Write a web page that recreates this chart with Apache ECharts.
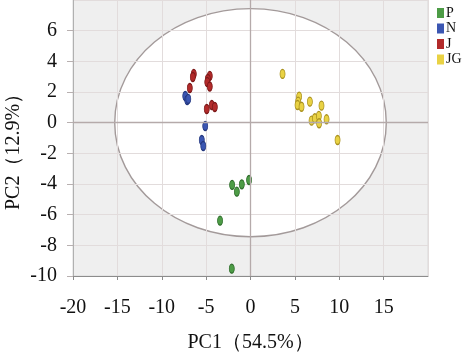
<!DOCTYPE html>
<html><head><meta charset="utf-8">
<script src="https://cdn.jsdelivr.net/npm/echarts@6/dist/echarts.min.js"></script>
<style>html,body{margin:0;padding:0;background:#fff}#c{width:464px;height:358px}</style>
</head><body><div id="c"></div>
<script>
const groupNames = ['P', 'N', 'J', 'JG'];
const groupP = [[-2.07,-4.06],[-1.54,-4.50],[-0.98,-4.02],[-0.16,-3.74],[-3.43,-6.39],[-2.11,-9.52]];
const groupN = [[-7.35,1.74],[-7.13,1.48],[-7.01,1.55],[-5.10,-0.22],[-5.49,-1.13],[-5.32,-1.52]];
const groupJ = [[-6.39,3.18],[-6.50,2.98],[-6.84,2.26],[-4.59,3.05],[-4.81,2.85],[-4.87,2.65],[-4.59,2.36],[-4.93,0.89],[-4.36,1.15],[-4.02,1.02]];
const groupJG = [[3.61,3.18],[5.48,1.70],[5.37,1.37],[5.30,1.15],[5.75,1.04],[6.69,1.37],[8.00,1.11],[6.88,0.13],[7.25,0.29],[7.70,0.44],[7.73,-0.04],[8.57,0.22],[9.81,-1.13]];
const ellipse = [[0, 0, 15.3, 7.44]]; // centre x, centre y, radius x, radius y
const xAxisName = 'PC1（54.5%）';
const yAxisName = 'PC2（12.9%）';

const fills = ['#4d9c46', '#3b56b2', '#b22a2a', '#e9d244'];
const strokes = ['#2d6b2a', '#24377e', '#7c1919', '#a8901e'];
const groupData = [groupP, groupN, groupJ, groupJG];
const font = '"Liberation Serif", "Times New Roman", serif';

const chart = echarts.init(document.getElementById('c'), null, {renderer: 'canvas'});
const series = [{
  type: 'custom',
  z: -1,
  silent: true,
  data: ellipse,
  renderItem: function (params, api) {
    const cs = params.coordSys;
    const c = api.coord([api.value(0), api.value(1)]);
    const s = api.size([api.value(2), api.value(3)]);
    return {
      type: 'group',
      children: [
        {type: 'rect', shape: {x: cs.x, y: cs.y, width: cs.width, height: cs.height}, style: {fill: '#efefef'}},
        {type: 'ellipse', shape: {cx: c[0], cy: c[1], rx: s[0], ry: s[1]}, style: {fill: '#ffffff', stroke: '#a39a9a', lineWidth: 1.4}}
      ]
    };
  }
}];
groupNames.forEach(function (n, i) {
  const s = {
    name: n,
    type: 'scatter',
    data: groupData[i],
    symbol: 'circle',
    symbolSize: [5, 9],
    itemStyle: {color: fills[i], borderColor: strokes[i], borderWidth: 1, opacity: 1}
  };
  if (i === 0) {
    s.markLine = {
      silent: true, symbol: 'none', label: {show: false},
      lineStyle: {color: '#b5aaaa', width: 1.3, type: 'solid'},
      data: [{xAxis: 0}, {yAxis: 0}],
      animation: false
    };
  }
  series.push(s);
});

chart.setOption({
  animation: false,
  backgroundColor: '#ffffff',
  grid: {left: 73, right: 36, top: 0, bottom: 82, containLabel: false, outerBoundsMode: 'none', show: true, borderColor: '#d8d8d8', borderWidth: 1, backgroundColor: 'transparent'},
  legend: {
    orient: 'vertical', left: 432, top: 1,
    itemWidth: 7, itemHeight: 10, itemGap: 1.5,
    icon: 'rect',
    data: groupNames,
    itemStyle: {borderWidth: 0},
    textStyle: {fontFamily: font, fontSize: 14, color: '#111', padding: [0, 0, 0, -3]}
  },
  xAxis: {
    type: 'value', min: -20, max: 20, interval: 5,
    name: xAxisName, nameLocation: 'middle', nameGap: 57, nameMoveOverlap: false,
    nameTextStyle: {fontFamily: font, fontSize: 20, color: '#111'},
    axisLine: {show: true, onZero: false, lineStyle: {color: '#8c8c8c', width: 1}},
    axisTick: {show: true, length: 4, lineStyle: {color: '#8c8c8c'}},
    axisLabel: {fontFamily: font, fontSize: 20, color: '#111', margin: 22, showMaxLabel: false},
    splitLine: {show: true, lineStyle: {color: '#e2dcdc', width: 1}}
  },
  yAxis: {
    type: 'value', min: -10, max: 8, interval: 2,
    name: yAxisName, nameLocation: 'middle', nameGap: 49, nameRotate: 90, nameMoveOverlap: false,
    nameTextStyle: {fontFamily: font, fontSize: 20, color: '#111', padding: [0, 18, 0, 0]},
    axisLine: {show: true, onZero: false, lineStyle: {color: '#b0b0b0', width: 1}},
    axisTick: {show: true, length: 6, lineStyle: {color: '#b8b0b0'}},
    axisLabel: {fontFamily: font, fontSize: 20, color: '#111', margin: 16, showMaxLabel: false},
    splitLine: {show: true, lineStyle: {color: '#e2dcdc', width: 1}}
  },
  series: series
});
</script></body></html>
